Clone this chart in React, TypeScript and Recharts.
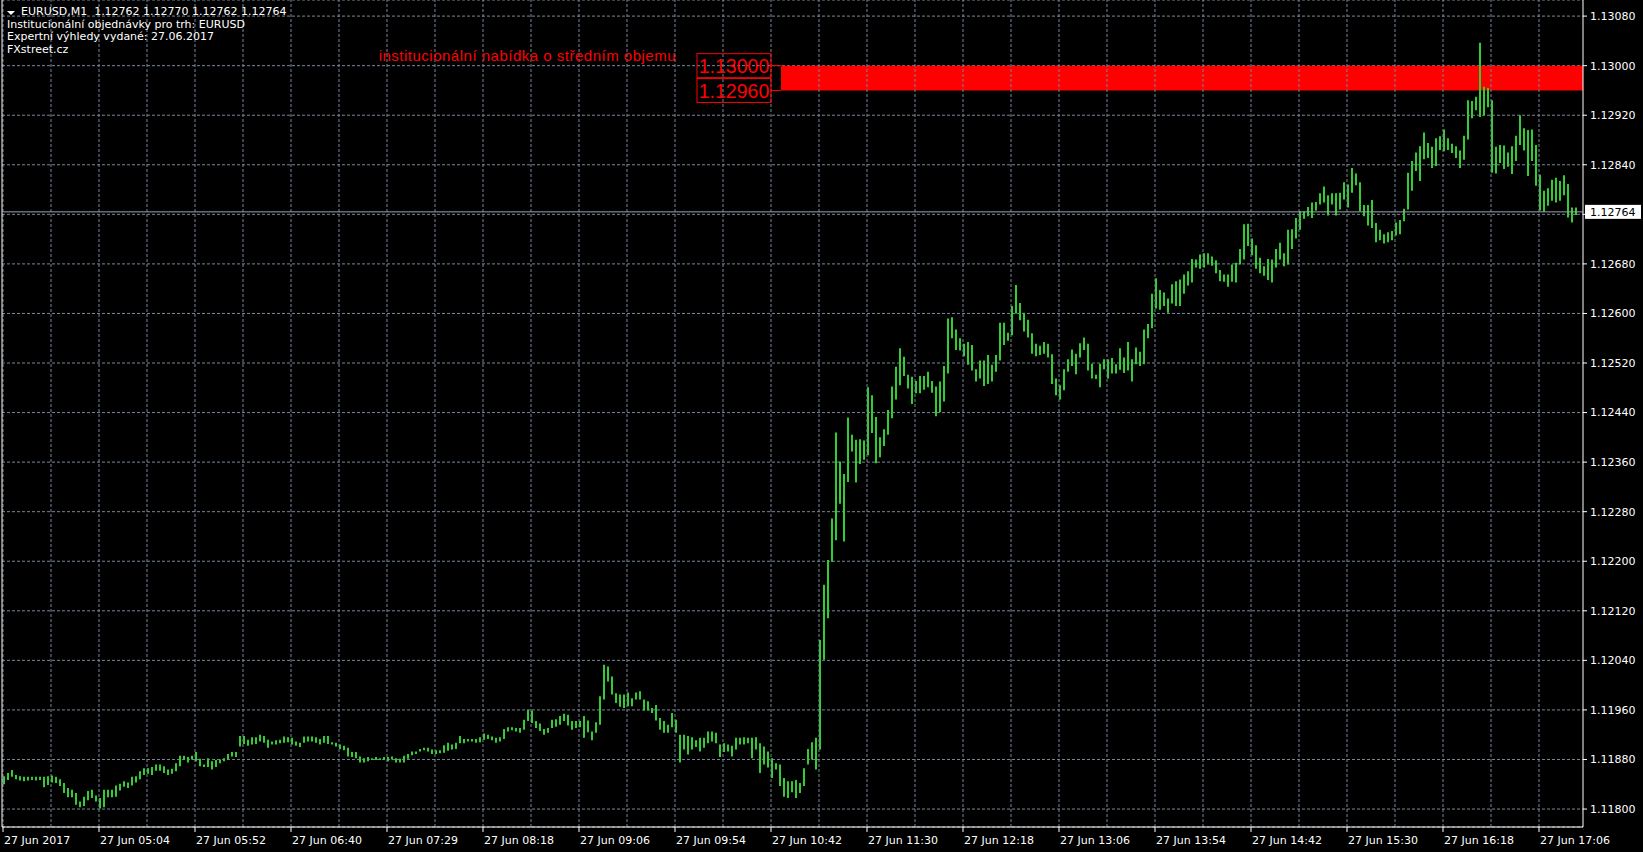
import { ComposedChart, Bar, XAxis, YAxis, CartesianGrid, ReferenceLine, ReferenceArea } from "recharts";

// EURUSD M1, 27 Jun 2017. Prices are kept in points above 1.11800 (1 point = 0.00001).
// Each entry is one 2-minute bar: HIGH / LOW.
const BASE_PRICE = 1.118;

const HIGH = [
  53, 58, 63, 55, 53, 52, 52, 52, 52, 52,
  52, 53, 54, 52, 48, 42, 34, 31, 26, 12,
  20, 29, 31, 22, 18, 31, 31, 31, 38, 41,
  45, 43, 52, 53, 61, 66, 66, 68, 72, 72,
  69, 64, 65, 74, 86, 86, 84, 86, 92, 81,
  72, 82, 77, 79, 80, 82, 89, 92, 92, 118,
  118, 112, 116, 116, 120, 118, 112, 109, 111, 112,
  117, 116, 115, 109, 107, 117, 117, 117, 116, 113,
  118, 118, 108, 107, 104, 102, 99, 92, 92, 85,
  82, 84, 82, 84, 82, 84, 84, 85, 82, 81,
  86, 89, 93, 93, 97, 99, 99, 96, 95, 95,
  103, 107, 104, 107, 118, 113, 113, 113, 113, 116,
  122, 120, 117, 115, 116, 129, 132, 132, 131, 131,
  144, 160, 159, 142, 138, 129, 131, 144, 145, 150,
  154, 152, 142, 142, 142, 150, 143, 125, 140, 182,
  233, 230, 214, 187, 185, 185, 188, 179, 188, 190,
  177, 174, 163, 168, 147, 142, 136, 155, 144, 120,
  120, 118, 116, 111, 115, 115, 125, 125, 123, 104,
  106, 104, 102, 115, 115, 116, 115, 115, 116, 106,
  101, 93, 82, 74, 72, 50, 45, 45, 47, 42,
  66, 97, 108, 115, 273, 362, 402, 469, 608, 561,
  541, 632, 604, 596, 597, 595, 681, 668, 633, 600,
  613, 644, 682, 714, 744, 730, 701, 698, 691, 699,
  699, 706, 691, 682, 690, 715, 792, 794, 774, 760,
  751, 754, 749, 710, 724, 724, 733, 717, 733, 785,
  785, 769, 812, 846, 817, 801, 790, 768, 751, 748,
  754, 751, 734, 695, 684, 710, 726, 742, 735, 752,
  761, 751, 719, 701, 719, 726, 726, 728, 718, 744,
  729, 754, 726, 745, 738, 774, 783, 832, 857, 838,
  834, 824, 847, 852, 855, 863, 868, 888, 887, 895,
  897, 897, 892, 886, 870, 863, 863, 879, 882, 904,
  944, 945, 921, 910, 890, 876, 888, 887, 904, 914,
  897, 935, 936, 954, 965, 965, 972, 979, 980, 994,
  1005, 991, 994, 994, 995, 1012, 1008, 1035, 1026, 1012,
  975, 975, 983, 946, 935, 928, 931, 933, 947, 951,
  969, 1027, 1046, 1060, 1070, 1092, 1075, 1069, 1083, 1086,
  1097, 1083, 1074, 1070, 1063, 1087, 1144, 1143, 1150, 1237,
  1166, 1164, 1144, 1069, 1072, 1071, 1060, 1070, 1087, 1120,
  1099, 1096, 1097, 1072, 1024, 998, 1002, 1016, 1019, 1014,
  1023, 1009, 971, 971,
];

const LOW = [
  40, 47, 52, 48, 46, 45, 46, 47, 46, 47,
  35, 39, 43, 42, 37, 26, 19, 19, 7, 3,
  5, 14, 18, 12, 1, 3, 19, 19, 20, 30,
  36, 34, 38, 43, 48, 55, 57, 55, 62, 62,
  58, 55, 57, 61, 69, 80, 75, 80, 77, 69,
  68, 68, 64, 68, 74, 77, 80, 85, 84, 101,
  105, 102, 104, 105, 109, 107, 99, 104, 104, 106,
  107, 108, 104, 102, 100, 107, 109, 109, 107, 104,
  107, 105, 104, 101, 97, 95, 85, 84, 82, 75,
  75, 77, 79, 79, 79, 79, 77, 80, 75, 75,
  75, 81, 87, 89, 93, 95, 93, 89, 89, 90,
  91, 94, 96, 97, 106, 106, 109, 109, 107, 108,
  112, 113, 111, 107, 109, 113, 125, 127, 125, 123,
  128, 142, 139, 131, 126, 120, 123, 131, 133, 136,
  142, 135, 128, 131, 132, 115, 124, 111, 123, 136,
  177, 206, 185, 171, 165, 163, 166, 166, 177, 177,
  159, 159, 155, 143, 128, 123, 123, 132, 123, 75,
  96, 88, 96, 100, 93, 99, 106, 109, 106, 84,
  92, 93, 85, 96, 104, 104, 106, 82, 96, 58,
  72, 67, 50, 64, 37, 20, 18, 27, 18, 26,
  37, 72, 80, 64, 96, 241, 308, 399, 434, 493,
  432, 528, 577, 527, 557, 564, 571, 607, 558, 568,
  586, 604, 631, 661, 684, 699, 679, 654, 671, 671,
  677, 681, 672, 634, 641, 658, 703, 760, 741, 740,
  731, 717, 708, 690, 695, 683, 686, 690, 706, 724,
  749, 756, 765, 800, 789, 771, 761, 735, 731, 733,
  735, 729, 686, 668, 661, 676, 706, 715, 702, 729,
  741, 708, 695, 694, 681, 710, 695, 703, 703, 709,
  704, 708, 690, 718, 715, 718, 760, 776, 808, 806,
  812, 801, 816, 812, 812, 832, 845, 850, 874, 872,
  874, 879, 877, 865, 852, 851, 843, 851, 850, 879,
  887, 909, 894, 872, 865, 861, 854, 850, 874, 887,
  876, 879, 904, 921, 935, 953, 957, 954, 966, 976,
  979, 958, 976, 958, 968, 984, 971, 995, 1007, 965,
  957, 942, 938, 915, 918, 913, 915, 918, 926, 928,
  949, 968, 998, 1030, 1014, 1049, 1051, 1035, 1038, 1064,
  1062, 1064, 1059, 1051, 1035, 1048, 1081, 1115, 1128, 1117,
  1120, 1133, 1027, 1026, 1043, 1033, 1037, 1025, 1046, 1072,
  1063, 1022, 1046, 1006, 966, 964, 974, 982, 979, 982,
  991, 955, 947, 959,
];

const TIME_LABELS = [
  "27 Jun 2017", "27 Jun 05:04", "27 Jun 05:52", "27 Jun 06:40", "27 Jun 07:29",
  "27 Jun 08:18", "27 Jun 09:06", "27 Jun 09:54", "27 Jun 10:42", "27 Jun 11:30",
  "27 Jun 12:18", "27 Jun 13:06", "27 Jun 13:54", "27 Jun 14:42", "27 Jun 15:30",
  "27 Jun 16:18", "27 Jun 17:06",
];

const PRICE_TICKS = [0, 80, 160, 240, 320, 400, 480, 560, 640, 720, 800, 880, 960, 1040, 1120, 1200, 1280];

const HEADER_LINES = [
  "Institucionální objednávky pro trh: EURUSD",
  "Expertní výhledy vydané: 27.06.2017",
  "FXstreet.cz",
];
const SYMBOL = "EURUSD,M1";
const LAST_OHLC = ["1.12762", "1.12770", "1.12762", "1.12764"];

const LAST_PRICE = 964;
const ZONE_TOP = 1200;
const ZONE_BOTTOM = 1160;
const ZONE_START = 389; // minute bar where the supply zone starts
const ZONE_CAPTION = "institucionální nabídka o středním objemu";

const MINUTES_PER_LABEL = 48;
const MINUTES_PER_GRID = 24;
const LAST_MINUTE = 790;

const data = HIGH.map((h, j) => ({ t: 2 * j + 0.5, range: [LOW[j], h] }));
const labelTicks = TIME_LABELS.map((_, i) => i * MINUTES_PER_LABEL);
const gridMinutes = Array.from({ length: 33 }, (_, i) => i * MINUTES_PER_GRID);

const GRID = "#778899";
const GREEN = "#32cd32";
const RED = "#ff0000";
const AXIS_FONT = "DejaVu Sans";

const fmt = (v: number) => (BASE_PRICE + v / 100000).toFixed(5);

function TimeTick(props: any) {
  const { x, y, payload } = props;
  const label = TIME_LABELS[Math.round(payload.value / MINUTES_PER_LABEL)];
  return (
    <text x={x + 1} y={y + 11.5} fill="#ffffff" fontSize={11} fontFamily={AXIS_FONT}>
      {label}
    </text>
  );
}

function PriceTag(props: any) {
  const { viewBox } = props;
  const x = viewBox.x + viewBox.width + 2;
  const y = viewBox.y;
  return (
    <g>
      <rect x={x} y={y - 7} width={56} height={14} fill="#ffffff" />
      <text x={x + 5} y={y + 4} fill="#000000" fontSize={11} fontFamily={AXIS_FONT}>
        {fmt(LAST_PRICE)}
      </text>
    </g>
  );
}

function LevelTag(props: any) {
  const { viewBox, price, caption } = props;
  const right = viewBox.x;
  const cy = viewBox.y;
  return (
    <g>
      <rect x={right - 74} y={cy - 12} width={74} height={24} fill="none" stroke={RED} />
      <text x={right - 37} y={cy + 7.5} textAnchor="middle" fill={RED} fontSize={19.5} fontFamily="Liberation Sans">
        {price}
      </text>
      {caption && (
        <text x={right - 95} y={cy - 5} textAnchor="end" fill={RED} fontSize={15} letterSpacing={0.5} fontFamily="Liberation Sans">
          {caption}
        </text>
      )}
    </g>
  );
}

export default function App() {
  return (
    <div style={{ position: "absolute", left: 0, top: 0, width: 1643, height: 852, background: "#000", overflow: "hidden" }}>
      <ComposedChart width={1643} height={852} data={data} margin={{ top: 0, right: 0, bottom: 0, left: 2 }}>
        <CartesianGrid vertical={false} stroke={GRID} strokeDasharray="3 2" />
        {gridMinutes.map((m) => (
          <ReferenceLine key={m} x={m} stroke={GRID} strokeDasharray="3 2" />
        ))}
        <XAxis
          dataKey="t"
          type="number"
          domain={[-0.5, LAST_MINUTE]}
          allowDataOverflow
          ticks={labelTicks}
          interval={0}
          height={25}
          tickSize={5}
          tickMargin={0}
          tickLine={{ stroke: "#ffffff" }}
          axisLine={{ stroke: "#ffffff" }}
          tick={(p: any) => <TimeTick {...p} />}
        />
        <YAxis
          orientation="right"
          type="number"
          width={60}
          domain={[-29, 1306]}
          allowDataOverflow
          ticks={PRICE_TICKS}
          interval={0}
          tickSize={4}
          tickMargin={3}
          tickFormatter={(v: number) => (Math.abs(v - LAST_PRICE) < 10 ? "" : fmt(v))}
          tick={{ fill: "#ffffff", fontSize: 11, fontFamily: AXIS_FONT }}
          tickLine={{ stroke: "#ffffff" }}
          axisLine={{ stroke: "#ffffff" }}
        />
        <ReferenceLine x={-0.5} stroke="#ffffff" />
        <ReferenceArea x1={ZONE_START} x2={LAST_MINUTE} y1={ZONE_BOTTOM} y2={ZONE_TOP} fill={RED} fillOpacity={1} stroke="none" />
        <ReferenceLine
          segment={[{ x: ZONE_START - 5, y: ZONE_TOP }, { x: ZONE_START, y: ZONE_TOP }]}
          stroke={RED}
          label={(p: any) => <LevelTag {...p} price={fmt(ZONE_TOP)} caption={ZONE_CAPTION} />}
        />
        <ReferenceLine
          segment={[{ x: ZONE_START - 5, y: ZONE_BOTTOM }, { x: ZONE_START, y: ZONE_BOTTOM }]}
          stroke={RED}
          label={(p: any) => <LevelTag {...p} price={fmt(ZONE_BOTTOM)} />}
        />
        <ReferenceLine y={LAST_PRICE} stroke="#9aa3b4" label={(p: any) => <PriceTag {...p} />} />
        <Bar dataKey="range" fill={GREEN} barSize={2} isAnimationActive={false} />
      </ComposedChart>

      <div style={{ position: "absolute", left: 0, top: 6, color: "#fff", fontFamily: AXIS_FONT, fontSize: 11, lineHeight: "12.5px", whiteSpace: "pre" }}>
        <div style={{ position: "relative", paddingLeft: 21 }}>
          <svg width={10} height={6} style={{ position: "absolute", left: 7, top: 5 }}>
            <polygon points="0,0 8,0 4,4" fill="#fff" />
          </svg>
          {SYMBOL + "  " + LAST_OHLC.join(" ")}
        </div>
        {HEADER_LINES.map((l) => (
          <div key={l} style={{ paddingLeft: 7 }}>{l}</div>
        ))}
      </div>
    </div>
  );
}
